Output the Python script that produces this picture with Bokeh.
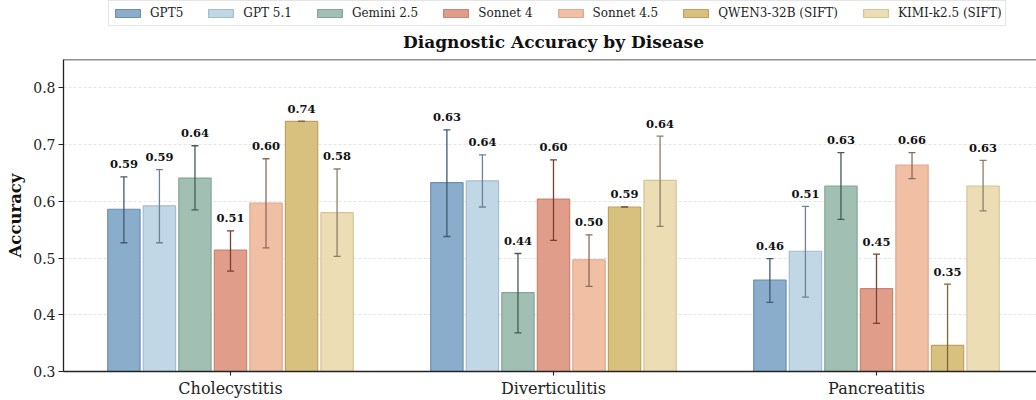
from bokeh.plotting import figure
from bokeh.layouts import column
from bokeh.models import (Legend, LegendItem, Label, Span, FixedTicker,
                          Range1d, ColumnDataSource)
from bokeh.embed import file_html
from bokeh.resources import INLINE
from bokeh.core.properties import value

diseases = ["Cholecystitis", "Diverticulitis", "Pancreatitis"]
models = ["GPT5", "GPT 5.1", "Gemini 2.5", "Sonnet 4", "Sonnet 4.5",
          "QWEN3-32B (SIFT)", "KIMI-k2.5 (SIFT)"]

# accuracy per model, order = diseases
acc_gpt5 = [0.586, 0.633, 0.461]
acc_gpt51 = [0.592, 0.636, 0.512]
acc_gemini = [0.641, 0.439, 0.627]
acc_sonnet4 = [0.514, 0.604, 0.446]
acc_sonnet45 = [0.597, 0.497, 0.664]
acc_qwen = [0.741, 0.590, 0.346]
acc_kimi = [0.580, 0.637, 0.627]

# error bar bounds (low, high) per model
lo_gpt5 = [0.527, 0.538, 0.422]
hi_gpt5 = [0.643, 0.726, 0.499]
lo_gpt51 = [0.527, 0.590, 0.431]
hi_gpt51 = [0.656, 0.682, 0.591]
lo_gemini = [0.585, 0.368, 0.568]
hi_gemini = [0.698, 0.508, 0.686]
lo_sonnet4 = [0.477, 0.531, 0.385]
hi_sonnet4 = [0.548, 0.673, 0.507]
lo_sonnet45 = [0.518, 0.450, 0.640]
hi_sonnet45 = [0.675, 0.541, 0.686]
lo_qwen = [0.741, 0.590, 0.238]
hi_qwen = [0.741, 0.590, 0.454]
lo_kimi = [0.503, 0.556, 0.583]
hi_kimi = [0.657, 0.715, 0.672]

y_ticks = [0.3, 0.4, 0.5, 0.6, 0.7, 0.8]
y_min, y_max = 0.3, 0.85
title_text = "Diagnostic Accuracy by Disease"

accs = [acc_gpt5, acc_gpt51, acc_gemini, acc_sonnet4, acc_sonnet45, acc_qwen, acc_kimi]
los = [lo_gpt5, lo_gpt51, lo_gemini, lo_sonnet4, lo_sonnet45, lo_qwen, lo_kimi]
his = [hi_gpt5, hi_gpt51, hi_gemini, hi_sonnet4, hi_sonnet45, hi_qwen, hi_kimi]

fills = ["#8AADCB", "#C2D7E6", "#A1C0B3", "#E09D8A", "#F1BFA4", "#D8C07E", "#EDDDB5"]
edges = ["#6B8FB0", "#A3BCD0", "#84A597", "#C98572", "#DDA88D", "#BFA35C", "#D6C398"]
errc = ["#3E5A75", "#6E8296", "#435D52", "#7D3F30", "#8A6C5C", "#7A6838", "#8C7F66"]

FONT = "DejaVu Serif"
W = 1036
LEFT = 63

# ---------- header figure: legend + title ----------
# header frame is aligned with the chart frame (starts at LEFT px)
hdr = figure(width=W, height=57, output_backend="svg", toolbar_location=None,
             x_range=Range1d(LEFT, W), y_range=Range1d(0, 57),
             x_axis_location=None, y_axis_location=None,
             min_border_left=LEFT, min_border_right=0, min_border_top=0,
             min_border_bottom=0, title_location=None)
hdr.grid.visible = False
hdr.outline_line_color = None
hdr.background_fill_color = "white"
hdr.border_fill_color = "white"

dummy = []
for i, m in enumerate(models):
    # swatch renderers only (placed outside the visible header range)
    dummy.append(hdr.vbar(x=[-500], top=[-500], bottom=-501, width=1,
                          fill_color=fills[i], line_color=edges[i],
                          line_width=1.2))

items = [LegendItem(label=m, renderers=[r]) for m, r in zip(models, dummy)]
legend = Legend(items=items, orientation="horizontal", location=(108 - LEFT, 31),
                label_text_font=FONT, label_text_font_size="12px",
                label_text_color="#222222",
                glyph_width=31, glyph_height=10, label_standoff=7, spacing=22,
                padding=3, margin=0, label_height=18,
                border_line_color="#cccccc", border_line_width=1,
                background_fill_color="white")
hdr.add_layout(legend)

hdr.add_layout(Label(x=553, y=16, text=title_text, text_align="center",
                     text_baseline="middle", text_font=FONT,
                     text_font_style="bold", text_font_size="17px",
                     text_color="#111111"))

# ---------- main chart ----------
p = figure(width=W, height=343, output_backend="svg", toolbar_location=None,
           x_range=Range1d(-0.517, 2.4954), y_range=Range1d(y_min, y_max),
           min_border_left=LEFT, min_border_right=0, min_border_bottom=28,
           min_border_top=2, title_location=None)
p.outline_line_color = None
p.background_fill_color = "white"
p.border_fill_color = "white"

step = 0.11
bw = 0.10
for i, m in enumerate(models):
    off = (i - 3) * step
    xs = [j + off for j in range(len(diseases))]
    src = ColumnDataSource(dict(x=xs, top=accs[i], lo=los[i], hi=his[i],
                                ly=[h + 0.015 for h in his[i]],
                                lab=["%.2f" % a for a in accs[i]]))
    p.vbar(x="x", top="top", bottom=0, width=bw, source=src,
           fill_color=fills[i], line_color=edges[i], line_width=1.2)
    p.segment(x0="x", y0="lo", x1="x", y1="hi", source=src,
              line_color=errc[i], line_width=1.3)
    p.scatter(x="x", y="hi", source=src, marker="dash", size=7,
              line_color=errc[i], line_width=1.3)
    p.scatter(x="x", y="lo", source=src, marker="dash", size=7,
              line_color=errc[i], line_width=1.3)
    p.text(x="x", y="ly", text="lab", source=src, text_align="center",
           text_baseline="bottom", text_font=value(FONT),
           text_font_style="bold", text_font_size="11.5px", text_color="#111111")

p.xaxis.ticker = FixedTicker(ticks=[0, 1, 2])
p.xaxis.major_label_overrides = {0: diseases[0], 1: diseases[1], 2: diseases[2]}
p.yaxis.ticker = FixedTicker(ticks=y_ticks)
for ax in (p.xaxis[0], p.yaxis[0]):
    ax.major_label_text_font = FONT
    ax.major_label_text_font_size = "14px"
    ax.major_label_text_color = "#222222"
    ax.axis_line_color = "#222222"
    ax.axis_line_width = 1.3
    ax.major_tick_line_color = "#222222"
    ax.major_tick_line_width = 1.1
    ax.major_tick_out = 5
    ax.major_tick_in = 0
    ax.minor_tick_line_color = None
    ax.major_label_standoff = 3
p.xaxis.major_label_text_font_size = "16px"
p.xaxis.major_tick_out = 4
p.yaxis.axis_label = "Accuracy"
p.yaxis.axis_label_text_font = FONT
p.yaxis.axis_label_text_font_style = "bold"
p.yaxis.axis_label_text_font_size = "16.5px"
p.yaxis.axis_label_text_color = "#111111"
p.yaxis.axis_label_standoff = 5

p.xgrid.grid_line_color = None
p.ygrid.ticker = FixedTicker(ticks=y_ticks)
p.ygrid.grid_line_color = "#dddddd"
p.ygrid.grid_line_dash = "3 2"
p.ygrid.grid_line_width = 0.8

p.add_layout(Span(location=y_max, dimension="width", line_color="#222222",
                  line_width=1.3))

layout = column(hdr, p, spacing=0)
open("out.html", "w").write(file_html(layout, INLINE))
